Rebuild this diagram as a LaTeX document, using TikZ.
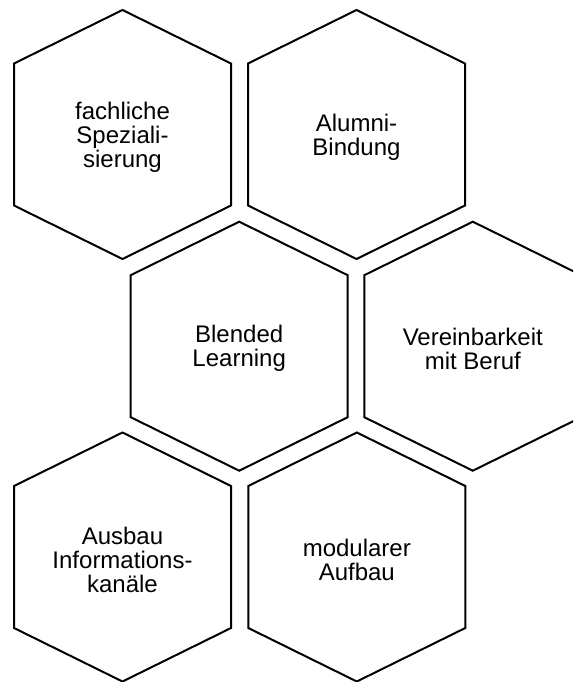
\documentclass[tikz,border=0pt]{standalone}
\usepackage{fontspec}
\setmainfont{Liberation Sans}
\begin{document}
\begin{tikzpicture}[x=1pt,y=-1pt,
  hexline/.style={draw=black, line width=2pt, fill=white, line join=miter},
  hexlabel/.style={align=center, inner sep=0pt, text=black,
    font=\fontsize{24}{24}\selectfont}]
  \clip (0,0) rectangle (573,682);
  \fill[white] (0,0) rectangle (573,682);

  % one hexagon outline around a named centre, with its label
  \newcommand\hexcell[2]{%
    \draw[hexline, shift={(#1.center)}]
      (0,-124.5) -- (108.5,-71) -- (108.5,71) -- (0,124.5)
      -- (-108.5,71) -- (-108.5,-71) -- cycle;
    \node[hexlabel] (#1-text) at ([yshift=-2.5pt]#1.center) {#2};}

  % centres of the six cells
  \coordinate (spez) at (122.5,134.5);
  \coordinate (alumni) at (356.5,134.5);
  \coordinate (blended) at (239.2,346.2);
  \coordinate (beruf) at (472.8,346.2);
  \coordinate (info) at (122.5,557);
  \coordinate (modul) at (356.8,557);

  \hexcell{spez}{fachliche\\Speziali-\\sierung}
  \hexcell{alumni}{Alumni-\\Bindung}
  \hexcell{blended}{Blended\\Learning}
  \hexcell{beruf}{Vereinbarkeit\\mit Beruf}
  \hexcell{info}{Ausbau\\Informations-\\kanäle}
  \hexcell{modul}{modularer\\Aufbau}
\end{tikzpicture}
\end{document}
